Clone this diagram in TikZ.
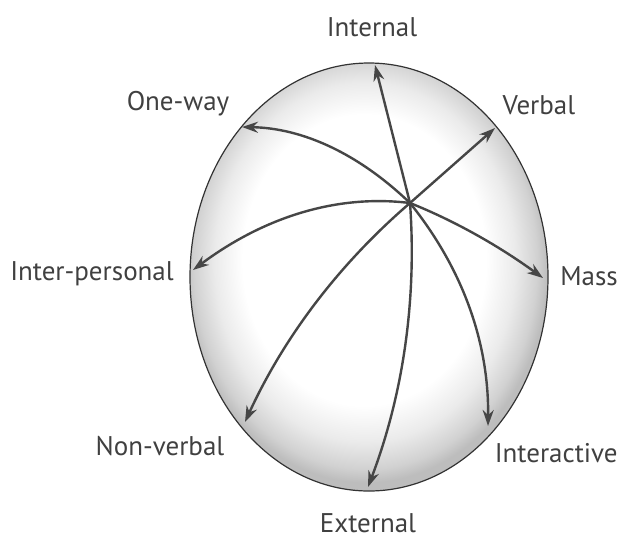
\documentclass[tikz,border=0pt]{standalone}
\usepackage{fontspec}
\setmainfont{PT Sans}
\usetikzlibrary{shapes.geometric, arrows.meta}
\pgfdeclareradialshading{eggshade}{\pgfpoint{-1bp}{3bp}}{color(0bp)=(white); color(17bp)=(white); color(21bp)=(gray!16); color(24bp)=(gray!36); color(25.5bp)=(gray!52); color(50bp)=(gray!52)}
\tikzset{
  eggbody/.style={
    ellipse, draw=gray!40!black, line width=0.6pt, shade, shading=eggshade,
    minimum width=179pt, minimum height=214pt, inner sep=0pt
  },
  typearrow/.style={-{Stealth[length=8pt,width=5.5pt]}, line width=1.2pt, color=gray!55!black},
  typelabel/.style={font=\fontsize{13.5}{16}\selectfont, text=black!75, inner sep=0pt},
}
\begin{document}
\begin{tikzpicture}[x=0.5pt, y=-0.5pt]
  \useasboundingbox (0,0) rectangle (620,537);

  % Egg
  \node[eggbody] (egg) at (369,277) {};
  \coordinate (hub) at (410,203);

  % Arrow tips on the rim
  \coordinate (tInternal) at (375,65);
  \coordinate (tVerbal) at (495,128);
  \coordinate (tOneway) at (242,127);
  \coordinate (tMass) at (543,278);
  \coordinate (tInterpers) at (193,270);
  \coordinate (tNonverbal) at (245,422);
  \coordinate (tExternal) at (368,487);
  \coordinate (tInteractive) at (488,426);

  % Arrows
  \draw[typearrow] (hub) -- (tInternal);
  \draw[typearrow] (hub) -- (tVerbal);
  \draw[typearrow] (hub) .. controls (359,154) and (303,128) .. (tOneway);
  \draw[typearrow] (hub) .. controls (455,221) and (499,246) .. (tMass);
  \draw[typearrow] (hub) .. controls (337,194) and (264,217) .. (tInterpers);
  \draw[typearrow] (hub) .. controls (339,264) and (284,337) .. (tNonverbal);
  \draw[typearrow] (hub) .. controls (417,300) and (403,395) .. (tExternal);
  \draw[typearrow] (hub) .. controls (463,269) and (489,343) .. (tInteractive);

  % Labels
  \node[typelabel] (lInternal) at (372,27) {Internal};
  \node[typelabel] (lVerbal) at (539,105) {Verbal};
  \node[typelabel] (lOneway) at (178,104) {One-way};
  \node[typelabel] (lInterpers) at (92,274) {Inter-personal};
  \node[typelabel] (lMass) at (589,276) {Mass};
  \node[typelabel] (lNonverbal) at (160,446) {Non-verbal};
  \node[typelabel, anchor=east] (lInteractive) at (618,453) {Interactive};
  \node[typelabel] (lExternal) at (368,523) {External};
\end{tikzpicture}
\end{document}
